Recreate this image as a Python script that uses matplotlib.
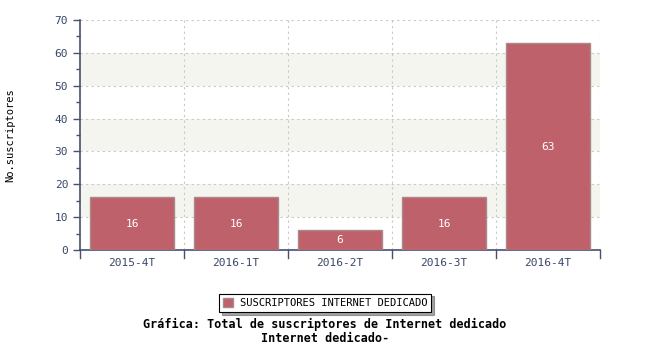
import matplotlib
matplotlib.use("Agg")
import matplotlib.pyplot as plt
import numpy as np

# Data
periodos = ["2015-4T", "2016-1T", "2016-2T", "2016-3T", "2016-4T"]
suscriptores = [16, 16, 6, 16, 63]
serie = "SUSCRIPTORES INTERNET DEDICADO"
titulo = "Gráfica: Total de suscriptores de Internet dedicado\nInternet dedicado-"

plt.rcParams['font.family'] = ['DejaVu Sans Mono']
axis_col = '#47506e'
text_col = '#3a4668'

fig = plt.figure(figsize=(6.5, 3.5), dpi=100)
ax = fig.add_axes([80/650, 1-250/350, 520/650, 230/350])

x = np.arange(len(periodos))
# alternating bands
for lo in (10, 30, 50):
    ax.axhspan(lo, lo + 10, color='#f5f5f0', zorder=0, lw=0)

bars = ax.bar(x, suscriptores, width=0.81, color='#bf616b',
              edgecolor='#a88a8c', linewidth=1.0, zorder=3, label=serie)
for xi, v in zip(x, suscriptores):
    ax.text(xi, v / 2, str(v), ha='center', va='center', color='white',
            fontsize=8, zorder=4)

ax.set_xlim(-0.5, len(periodos) - 0.5)
ax.set_ylim(0, 70)
ax.set_yticks(np.arange(0, 71, 10))
ax.set_yticks(np.arange(5, 70, 10), minor=True)
ax.set_xticks(x)
ax.set_xticklabels(periodos)
ax.tick_params(axis='x', length=0, labelsize=8, colors=text_col, pad=6)
ax.tick_params(axis='y', which='major', length=5, labelsize=8, colors=text_col, width=1)
ax.tick_params(axis='y', which='minor', length=3, color=axis_col, width=1)
ax.tick_params(axis='y', which='major', color=axis_col)

# grid lines
for yv in range(10, 71, 10):
    ax.axhline(yv, color='#c8c8c8', ls=(0, (2, 3)), lw=0.8, zorder=1)
for b in np.arange(0.5, len(periodos), 1.0):
    ax.axvline(b, color='#c8c8c8', ls=(0, (2, 3)), lw=0.8, zorder=1)
    ax.plot([b, b], [0, -2.5], color=axis_col, lw=1, clip_on=False, zorder=5)
ax.plot([-0.5, -0.5], [0, -2.5], color=axis_col, lw=1, clip_on=False, zorder=5)

for s in ['top', 'right']:
    ax.spines[s].set_visible(False)
for s in ['left', 'bottom']:
    ax.spines[s].set_color(axis_col)
    ax.spines[s].set_linewidth(1.2)

ax.set_ylabel("No.suscriptores", fontsize=7.5, color='black')
ax.yaxis.set_label_coords(-0.125, 0.5)

leg = fig.legend(handles=[bars], labels=[serie], loc='center',
                 bbox_to_anchor=(325/650, 1-303/350), fontsize=7.5,
                 frameon=True, fancybox=False, shadow=True,
                 edgecolor='black', handlelength=1.0, handleheight=1.0,
                 borderpad=0.4, handletextpad=0.6)
leg.get_frame().set_linewidth(0.8)

fig.text(325/650, 1-331/350, titulo, ha='center', va='center',
         fontsize=8.5, fontweight='bold', linespacing=1.1)

fig.savefig("out.png", dpi=100)
